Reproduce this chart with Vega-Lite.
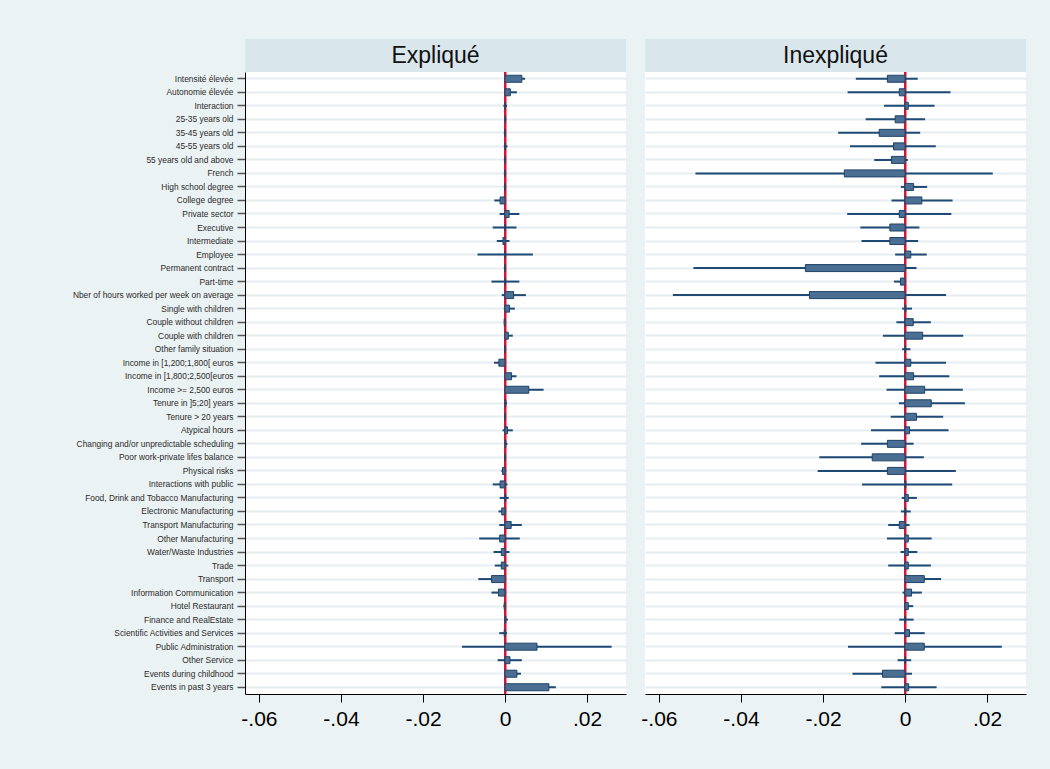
{
  "$schema": "https://vega.github.io/schema/vega-lite/v6.json",
  "background": "#EAF2F3",
  "padding": {"left": 72, "top": 39, "right": 24, "bottom": 41},
  "config": {"view": {"stroke": null}, "font": "Liberation Sans"},
  "data": {"values": [
    {"p": "E", "v": "Intensité élevée", "b": 0.0041, "lo": 0.0031, "hi": 0.0049},
    {"p": "E", "v": "Autonomie élevée", "b": 0.0013, "lo": 0.0001, "hi": 0.0029},
    {"p": "E", "v": "Interaction", "b": 0.0001, "lo": -0.0004, "hi": 0.0005},
    {"p": "E", "v": "25-35 years old", "b": 0.0001, "lo": -0.0002, "hi": 0.0003},
    {"p": "E", "v": "35-45 years old", "b": -0.0001, "lo": -0.0003, "hi": 0.0001},
    {"p": "E", "v": "45-55 years old", "b": 0.0001, "lo": -0.0003, "hi": 0.0006},
    {"p": "E", "v": "55 years old and above", "b": -0.0001, "lo": -0.0003, "hi": 0.0001},
    {"p": "E", "v": "French", "b": -0.0001, "lo": -0.0003, "hi": 0.0001},
    {"p": "E", "v": "High school degree", "b": -0.0001, "lo": -0.0003, "hi": 0.0001},
    {"p": "E", "v": "College degree", "b": -0.0012, "lo": -0.0026, "hi": 0.0},
    {"p": "E", "v": "Private sector", "b": 0.0010, "lo": -0.0013, "hi": 0.0035},
    {"p": "E", "v": "Executive", "b": 0.0, "lo": -0.0030, "hi": 0.0028},
    {"p": "E", "v": "Intermediate", "b": -0.0005, "lo": -0.0020, "hi": 0.0011},
    {"p": "E", "v": "Employee", "b": 0.0001, "lo": -0.0067, "hi": 0.0068},
    {"p": "E", "v": "Permanent contract", "b": -0.0001, "lo": -0.0003, "hi": 0.0001},
    {"p": "E", "v": "Part-time", "b": 0.0001, "lo": -0.0033, "hi": 0.0035},
    {"p": "E", "v": "Nber of hours worked per week on average", "b": 0.0021, "lo": -0.0008, "hi": 0.0051},
    {"p": "E", "v": "Single with children", "b": 0.0011, "lo": -0.0003, "hi": 0.0024},
    {"p": "E", "v": "Couple without children ", "b": -0.0002, "lo": -0.0003, "hi": 0.0},
    {"p": "E", "v": "Couple with children ", "b": 0.0008, "lo": 0.0, "hi": 0.0019},
    {"p": "E", "v": "Other family situation", "b": -0.0001, "lo": -0.0002, "hi": 0.0001},
    {"p": "E", "v": "Income in [1,200;1,800[ euros", "b": -0.0015, "lo": -0.0027, "hi": -0.0001},
    {"p": "E", "v": "Income in [1,800;2,500[euros", "b": 0.0016, "lo": 0.0004, "hi": 0.0028},
    {"p": "E", "v": "Income >= 2,500 euros", "b": 0.0058, "lo": 0.0022, "hi": 0.0094},
    {"p": "E", "v": "Tenure in ]5;20] years", "b": 0.0002, "lo": -0.0002, "hi": 0.0005},
    {"p": "E", "v": "Tenure > 20 years", "b": -0.0001, "lo": -0.0002, "hi": 0.0001},
    {"p": "E", "v": "Atypical hours", "b": 0.0006, "lo": -0.0006, "hi": 0.0019},
    {"p": "E", "v": "Changing and/or unpredictable scheduling", "b": 0.0002, "lo": -0.0001, "hi": 0.0006},
    {"p": "E", "v": "Poor work-private lifes balance", "b": -0.0001, "lo": -0.0002, "hi": 0.0001},
    {"p": "E", "v": "Physical risks", "b": -0.0006, "lo": -0.0009, "hi": 0.0002},
    {"p": "E", "v": "Interactions with public", "b": -0.0012, "lo": -0.0030, "hi": 0.0006},
    {"p": "E", "v": "Food, Drink and Tobacco Manufacturing", "b": 0.0002, "lo": -0.0013, "hi": 0.0009},
    {"p": "E", "v": "Electronic Manufacturing", "b": -0.0008, "lo": -0.0016, "hi": 0.0002},
    {"p": "E", "v": "Transport Manufacturing", "b": 0.0015, "lo": -0.0014, "hi": 0.0041},
    {"p": "E", "v": "Other Manufacturing", "b": -0.0013, "lo": -0.0063, "hi": 0.0036},
    {"p": "E", "v": "Water/Waste Industries", "b": -0.0009, "lo": -0.0028, "hi": 0.0011},
    {"p": "E", "v": "Trade", "b": -0.0009, "lo": -0.0025, "hi": 0.0008},
    {"p": "E", "v": "Transport", "b": -0.0033, "lo": -0.0065, "hi": -0.0001},
    {"p": "E", "v": "Information Communication", "b": -0.0016, "lo": -0.0033, "hi": 0.0002},
    {"p": "E", "v": "Hotel Restaurant", "b": -0.0002, "lo": -0.0004, "hi": 0.0},
    {"p": "E", "v": "Finance and RealEstate", "b": 0.0002, "lo": -0.0001, "hi": 0.0007},
    {"p": "E", "v": "Scientific Activities and Services", "b": -0.0002, "lo": -0.0014, "hi": 0.0005},
    {"p": "E", "v": "Public Administration", "b": 0.0078, "lo": -0.0105, "hi": 0.0260},
    {"p": "E", "v": "Other Service", "b": 0.0012, "lo": -0.0018, "hi": 0.0041},
    {"p": "E", "v": "Events during childhood", "b": 0.0029, "lo": 0.0019, "hi": 0.0039},
    {"p": "E", "v": "Events in past 3 years", "b": 0.0107, "lo": 0.0090, "hi": 0.0124},
    {"p": "I", "v": "Intensité élevée", "b": -0.0043, "lo": -0.0120, "hi": 0.0031},
    {"p": "I", "v": "Autonomie élevée", "b": -0.0014, "lo": -0.0140, "hi": 0.0111},
    {"p": "I", "v": "Interaction", "b": 0.0008, "lo": -0.0051, "hi": 0.0072},
    {"p": "I", "v": "25-35 years old", "b": -0.0024, "lo": -0.0096, "hi": 0.0049},
    {"p": "I", "v": "35-45 years old", "b": -0.0063, "lo": -0.0163, "hi": 0.0037},
    {"p": "I", "v": "45-55 years old", "b": -0.0028, "lo": -0.0134, "hi": 0.0075},
    {"p": "I", "v": "55 years old and above", "b": -0.0033, "lo": -0.0075, "hi": 0.0007},
    {"p": "I", "v": "French", "b": -0.0148, "lo": -0.0511, "hi": 0.0214},
    {"p": "I", "v": "High school degree", "b": 0.0021, "lo": -0.0010, "hi": 0.0054},
    {"p": "I", "v": "College degree", "b": 0.0041, "lo": -0.0033, "hi": 0.0116},
    {"p": "I", "v": "Private sector", "b": -0.0014, "lo": -0.0141, "hi": 0.0113},
    {"p": "I", "v": "Executive", "b": -0.0037, "lo": -0.0109, "hi": 0.0035},
    {"p": "I", "v": "Intermediate", "b": -0.0037, "lo": -0.0106, "hi": 0.0032},
    {"p": "I", "v": "Employee", "b": 0.0014, "lo": -0.0024, "hi": 0.0053},
    {"p": "I", "v": "Permanent contract", "b": -0.0243, "lo": -0.0516, "hi": 0.0028},
    {"p": "I", "v": "Part-time", "b": -0.0011, "lo": -0.0027, "hi": 0.0},
    {"p": "I", "v": "Nber of hours worked per week on average", "b": -0.0233, "lo": -0.0566, "hi": 0.0100},
    {"p": "I", "v": "Single with children", "b": 0.0002, "lo": -0.0007, "hi": 0.0017},
    {"p": "I", "v": "Couple without children ", "b": 0.0020, "lo": -0.0021, "hi": 0.0063},
    {"p": "I", "v": "Couple with children ", "b": 0.0043, "lo": -0.0054, "hi": 0.0142},
    {"p": "I", "v": "Other family situation", "b": 0.0001, "lo": -0.0007, "hi": 0.0013},
    {"p": "I", "v": "Income in [1,200;1,800[ euros", "b": 0.0014, "lo": -0.0072, "hi": 0.0100},
    {"p": "I", "v": "Income in [1,800;2,500[euros", "b": 0.0021, "lo": -0.0063, "hi": 0.0108},
    {"p": "I", "v": "Income >= 2,500 euros", "b": 0.0048, "lo": -0.0045, "hi": 0.0141},
    {"p": "I", "v": "Tenure in ]5;20] years", "b": 0.0064, "lo": -0.0015, "hi": 0.0146},
    {"p": "I", "v": "Tenure > 20 years", "b": 0.0028, "lo": -0.0035, "hi": 0.0093},
    {"p": "I", "v": "Atypical hours", "b": 0.0011, "lo": -0.0083, "hi": 0.0106},
    {"p": "I", "v": "Changing and/or unpredictable scheduling", "b": -0.0043, "lo": -0.0107, "hi": 0.0021},
    {"p": "I", "v": "Poor work-private lifes balance", "b": -0.0080, "lo": -0.0209, "hi": 0.0046},
    {"p": "I", "v": "Physical risks", "b": -0.0043, "lo": -0.0213, "hi": 0.0124},
    {"p": "I", "v": "Interactions with public", "b": 0.0002, "lo": -0.0105, "hi": 0.0115},
    {"p": "I", "v": "Food, Drink and Tobacco Manufacturing", "b": 0.0008, "lo": -0.0008, "hi": 0.0029},
    {"p": "I", "v": "Electronic Manufacturing", "b": 0.0002, "lo": -0.0010, "hi": 0.0014},
    {"p": "I", "v": "Transport Manufacturing", "b": -0.0014, "lo": -0.0041, "hi": 0.0011},
    {"p": "I", "v": "Other Manufacturing", "b": 0.0008, "lo": -0.0044, "hi": 0.0065},
    {"p": "I", "v": "Water/Waste Industries", "b": 0.0008, "lo": -0.0011, "hi": 0.0030},
    {"p": "I", "v": "Trade", "b": 0.0008, "lo": -0.0041, "hi": 0.0063},
    {"p": "I", "v": "Transport", "b": 0.0047, "lo": 0.0006, "hi": 0.0088},
    {"p": "I", "v": "Information Communication", "b": 0.0016, "lo": -0.0006, "hi": 0.0041},
    {"p": "I", "v": "Hotel Restaurant", "b": 0.0008, "lo": -0.0001, "hi": 0.0020},
    {"p": "I", "v": "Finance and RealEstate", "b": 0.0001, "lo": -0.0014, "hi": 0.0021},
    {"p": "I", "v": "Scientific Activities and Services", "b": 0.0011, "lo": -0.0025, "hi": 0.0048},
    {"p": "I", "v": "Public Administration", "b": 0.0047, "lo": -0.0139, "hi": 0.0236},
    {"p": "I", "v": "Other Service", "b": 0.0001, "lo": -0.0018, "hi": 0.0015},
    {"p": "I", "v": "Events during childhood", "b": -0.0055, "lo": -0.0128, "hi": 0.0017},
    {"p": "I", "v": "Events in past 3 years", "b": 0.0009, "lo": -0.0058, "hi": 0.0077}
  ]},
  "columns": 2,
  "spacing": {"row": 0, "column": 19},
  "bounds": "flush",
  "concat": [
    {
      "data": {"values": [{"t": "Expliqué"}]},
      "width": 381, "height": 33,
      "view": {"fill": "#D9E6EB", "stroke": null},
      "mark": {"type": "text", "fontSize": 23, "color": "#111111", "font": "Liberation Sans"},
      "encoding": {"text": {"field": "t"}}
    },
    {
      "data": {"values": [{"t": "Inexpliqué"}]},
      "width": 381, "height": 33,
      "view": {"fill": "#D9E6EB", "stroke": null},
      "mark": {"type": "text", "fontSize": 23, "color": "#111111", "font": "Liberation Sans"},
      "encoding": {"text": {"field": "t"}}
    },
    {
      "width": 381, "height": 622,
      "view": {"fill": "white", "stroke": null},
      "transform": [{"filter": "datum.p === 'E'"}],
      "encoding": {
        "y": {"field": "v", "type": "nominal", "sort": null,
              "scale": {"paddingInner": 0, "paddingOuter": 0},
              "axis": {"title": null, "labelFontSize": 8.4, "labelColor": "#2A2A2A", "labelLimit": 400,
                       "tickSize": 8, "tickColor": "#555555", "tickWidth": 1.5, "labelPadding": 4,
                       "domainColor": "#000000", "domainWidth": 1,
                       "grid": true, "gridColor": "#E6EEF1", "gridWidth": 2, "bandPosition": 0.5}}
      },
      "layer": [
        {"mark": {"type": "rule", "color": "#D0153E", "strokeWidth": 2},
         "encoding": {"x": {"datum": 0, "type": "quantitative",
                            "scale": {"domain": [-0.0634, 0.0295], "nice": false, "zero": false},
                            "axis": {"title": null, "values": [-0.06, -0.04, -0.02, 0, 0.02],
                                     "labelExpr": "replace(replace(format(datum.value, '.2~f'), '0.', '.'), '\u2212', '-')",
                                     "labelFontSize": 21, "labelColor": "#000000", "labelFlush": false,
                                     "tickSize": 8, "tickColor": "#000000", "domainColor": "#000000",
                                     "labelPadding": 6, "grid": false}},
                      "y": null}},
        {"mark": {"type": "rule", "color": "#1F4A74", "strokeWidth": 2},
         "encoding": {"x": {"field": "lo", "type": "quantitative"}, "x2": {"field": "hi"}}},
        {"mark": {"type": "bar", "height": 7, "fill": "#4B6E93", "stroke": "#1E4468", "strokeWidth": 1},
         "encoding": {"x": {"field": "b", "type": "quantitative"}}}
      ]
    },
    {
      "width": 381, "height": 622,
      "view": {"fill": "white", "stroke": null},
      "transform": [{"filter": "datum.p === 'I'"}],
      "encoding": {
        "y": {"field": "v", "type": "nominal", "sort": null,
              "scale": {"paddingInner": 0, "paddingOuter": 0},
              "axis": {"title": null, "labels": false, "ticks": false, "domain": false,
                       "grid": true, "gridColor": "#E6EEF1", "gridWidth": 2, "bandPosition": 0.5}}
      },
      "layer": [
        {"mark": {"type": "rule", "color": "#D0153E", "strokeWidth": 2},
         "encoding": {"x": {"datum": 0, "type": "quantitative",
                            "scale": {"domain": [-0.0634, 0.0295], "nice": false, "zero": false},
                            "axis": {"title": null, "values": [-0.06, -0.04, -0.02, 0, 0.02],
                                     "labelExpr": "replace(replace(format(datum.value, '.2~f'), '0.', '.'), '\u2212', '-')",
                                     "labelFontSize": 21, "labelColor": "#000000", "labelFlush": false,
                                     "tickSize": 8, "tickColor": "#000000", "domainColor": "#000000",
                                     "labelPadding": 6, "grid": false}},
                      "y": null}},
        {"mark": {"type": "rule", "color": "#1F4A74", "strokeWidth": 2},
         "encoding": {"x": {"field": "lo", "type": "quantitative"}, "x2": {"field": "hi"}}},
        {"mark": {"type": "bar", "height": 7, "fill": "#4B6E93", "stroke": "#1E4468", "strokeWidth": 1},
         "encoding": {"x": {"field": "b", "type": "quantitative"}}}
      ]
    }
  ]
}
